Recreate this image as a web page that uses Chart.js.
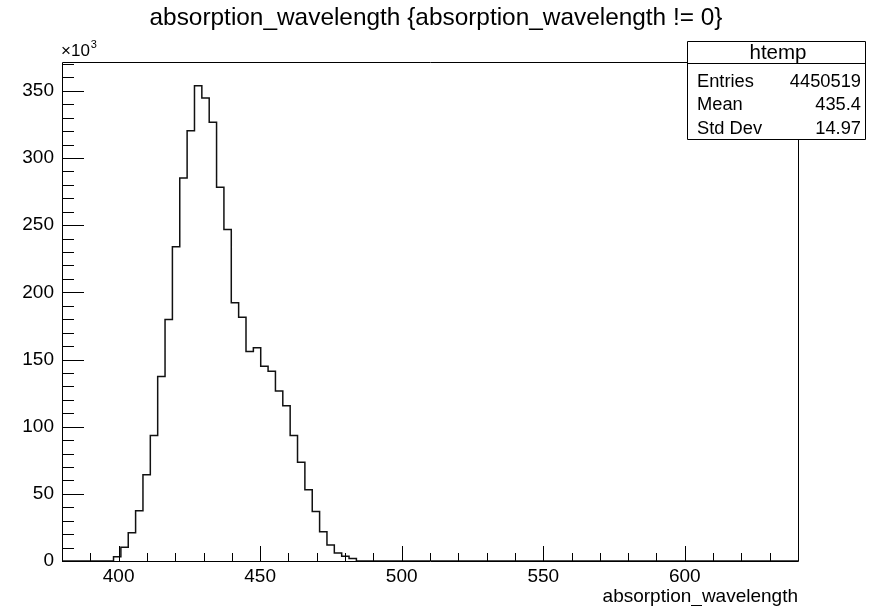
<!DOCTYPE html>
<html lang="en">
<head>
  <meta charset="UTF-8" />
  <title>absorption_wavelength</title>
  <script src="https://cdn.jsdelivr.net/npm/chart.js"></script>
  <style>
    body { margin: 0; background: #fff; }
    #wrap { width: 869px; height: 606px; }
  </style>
</head>
<body>
  <div id="wrap"><canvas id="histChart" width="869" height="606"></canvas></div>

  <script>
    // htemp: 100 bins from 380 to 640, only the filled bins are listed
    const xMin = 380;
    const xMax = 640;
    const binWidth = 2.6;
    const firstBinLow = 398.2;
    const counts = [
      3200, 10200, 21000, 37400, 64200, 93500, 137300, 179700, 234000, 285200,
      320400, 353800, 344700, 326600, 278300, 246800, 192300, 181400, 156000, 158800,
      145000, 141300, 126500, 115600, 93500, 73500, 53000, 36800, 21700, 11900,
      6000, 3500, 1800
    ];

    const xMajorTicks = [400, 450, 500, 550, 600];
    const yMajorTicks = [0, 50, 100, 150, 200, 250, 300, 350]; // x10^3
    const xMinorStep = 10;
    const yMinorStep = 10000;

    const titleText = 'absorption_wavelength {absorption_wavelength != 0}';
    const statNames = ['Entries', 'Mean', 'Std Dev'];
    const statValues = ['4450519', '435.4', '14.97'];

    const FONT = "'Liberation Sans', Arial, sans-serif";
    Chart.defaults.font.family = FONT;
    Chart.defaults.color = '#000';

    // outline points for a stepped line (horizontal first)
    const points = [{ x: xMin, y: 0 }, { x: firstBinLow, y: 0 }];
    counts.forEach((c, i) => points.push({ x: firstBinLow + i * binWidth, y: c }));
    points.push({ x: firstBinLow + counts.length * binWidth, y: 0 });
    points.push({ x: xMax, y: 0 });

    const yMax = Math.max(...counts) * 1.05;

    // ROOT style title, frame, inward ticks, exponent and stats box
    const rootFrame = {
      id: 'rootFrame',
      afterDraw(chart) {
        const { ctx, chartArea: a, scales: { x, y } } = chart;
        ctx.save();
        ctx.fillStyle = '#000';
        ctx.font = '24.4px ' + FONT;
        ctx.textAlign = 'center';
        ctx.textBaseline = 'middle';
        ctx.fillText(titleText, 436, 18);

        ctx.strokeStyle = '#000';
        ctx.lineWidth = 1;
        ctx.beginPath();
        ctx.rect(Math.round(a.left) + 0.5, Math.round(a.top) + 0.5,
                 Math.round(a.right - a.left), Math.round(a.bottom - a.top));
        ctx.stroke();

        ctx.beginPath();
        y.ticks.forEach(t => {
          const py = Math.round(y.getPixelForValue(t.value)) + 0.5;
          const len = yMajorTicks.includes(t.value / 1000) ? 22 : 12;
          ctx.moveTo(a.left, py);
          ctx.lineTo(a.left + len, py);
        });
        x.ticks.forEach(t => {
          const px = Math.round(x.getPixelForValue(t.value)) + 0.5;
          const len = xMajorTicks.includes(t.value) ? 15 : 8;
          ctx.moveTo(px, a.bottom);
          ctx.lineTo(px, a.bottom - len);
        });
        ctx.stroke();

        // exponent label
        ctx.textBaseline = 'alphabetic';
        ctx.textAlign = 'left';
        ctx.font = '17px ' + FONT;
        ctx.fillText('×10', a.left - 1, 56);
        const w = ctx.measureText('×10').width;
        ctx.font = '11px ' + FONT;
        ctx.fillText('3', a.left - 1 + w + 1, 48);

        // stats box
        const bx = 687, by = 41, bw = 178, bh = 98;
        ctx.fillStyle = '#fff';
        ctx.fillRect(bx, by, bw, bh);
        ctx.beginPath();
        ctx.rect(bx + 0.5, by + 0.5, bw, bh);
        ctx.moveTo(bx, by + 22.5);
        ctx.lineTo(bx + bw, by + 22.5);
        ctx.stroke();

        ctx.fillStyle = '#000';
        ctx.font = '20.5px ' + FONT;
        ctx.textAlign = 'center';
        ctx.fillText('htemp', bx + bw / 2 + 2, by + 18);
        ctx.font = '18.3px ' + FONT;
        statNames.forEach((name, i) => {
          const base = by + 45.5 + i * 23.5;
          ctx.textAlign = 'left';
          ctx.fillText(name, bx + 10, base);
          ctx.textAlign = 'right';
          ctx.fillText(statValues[i], bx + bw - 4, base);
        });
        ctx.restore();
      }
    };

    const ctx = document.getElementById('histChart').getContext('2d');
    const chart = new Chart(ctx, {
      type: 'line',
      data: {
        datasets: [{
          label: 'htemp',
          data: points,
          stepped: true,
          borderColor: '#111',
          borderWidth: 1.5,
          pointRadius: 0,
          fill: false
        }]
      },
      options: {
        responsive: false,
        animation: false,
        layout: { padding: { left: 0, right: 71, top: 62, bottom: 0 } },
        plugins: {
          legend: { display: false },
          tooltip: { enabled: false },
          title: { display: false }
        },
        scales: {
          x: {
            type: 'linear',
            min: xMin,
            max: xMax,
            grid: { display: false, drawTicks: false },
            border: { display: false },
            afterBuildTicks: s => {
              s.ticks = [];
              for (let v = xMin + xMinorStep; v < xMax; v += xMinorStep) s.ticks.push({ value: v });
            },
            afterFit: s => { s.height = 45; },
            ticks: {
              autoSkip: false,
              maxRotation: 0,
              padding: 4,
              font: { size: 19 },
              callback: v => xMajorTicks.includes(v) ? String(v) : ''
            },
            title: {
              display: true,
              text: 'absorption_wavelength',
              align: 'end',
              font: { size: 19, lineHeight: 1 },
              padding: 0
            }
          },
          y: {
            min: 0,
            max: yMax,
            grid: { display: false, drawTicks: false },
            border: { display: false },
            afterBuildTicks: s => {
              s.ticks = [];
              for (let v = 0; v <= yMax; v += yMinorStep) s.ticks.push({ value: v });
            },
            afterFit: s => { s.width = 62; },
            ticks: {
              autoSkip: false,
              padding: 8,
              font: { size: 19 },
              callback: v => yMajorTicks.includes(v / 1000) ? String(v / 1000) : ''
            }
          }
        }
      },
      plugins: [rootFrame]
    });
  </script>
</body>
</html>
